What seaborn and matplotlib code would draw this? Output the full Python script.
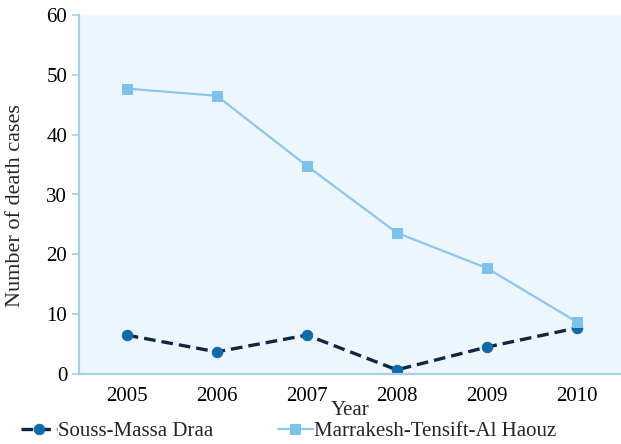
import matplotlib
matplotlib.use("Agg")
import matplotlib.pyplot as plt
import seaborn as sns
import pandas as pd

years = [2005, 2006, 2007, 2008, 2009, 2010]
souss = [6.5, 3.7, 6.5, 0.7, 4.5, 7.7]
marrakesh = [47.7, 46.5, 34.8, 23.6, 17.7, 8.7]
names = ["Souss-Massa Draa", "Marrakesh-Tensift-Al Haouz"]

sns.set_theme(style="white")
plt.rcParams['font.family'] = ['Liberation Serif', 'DejaVu Serif']

df = pd.DataFrame({"Year": years * 2,
                   "Deaths": souss + marrakesh,
                   "Region": [names[0]] * 6 + [names[1]] * 6})

fig = plt.figure(figsize=(6.21, 4.44), dpi=100)
ax = fig.add_axes([79/621, 70/444, 542/621, 359/444])
ax.set_facecolor("#EEF6FD")

sns.lineplot(data=df[df.Region == names[0]], x="Year", y="Deaths", ax=ax,
             color="#0F2740", linewidth=2.4, dashes=False, legend=False)
ax.lines[-1].set_dashes([3.5, 1.8])
ax.lines[-1].set_marker("o")
ax.lines[-1].set_markersize(7.5)
ax.lines[-1].set_markerfacecolor("#0E6BA8")
ax.lines[-1].set_markeredgecolor("#0E6BA8")
ax.lines[-1].set_label(names[0])

sns.lineplot(data=df[df.Region == names[1]], x="Year", y="Deaths", ax=ax,
             color="#8DC6EA", linewidth=1.6, marker="s", markersize=7.5,
             markerfacecolor="#7EC1EA", markeredgecolor="#7EC1EA", legend=False)
ax.lines[-1].set_label(names[1])

ax.set_xlim(2004.47, 2010.49)
ax.set_ylim(0, 60)
ax.set_xticks(years)
ax.set_yticks([0, 10, 20, 30, 40, 50, 60])
ax.tick_params(axis="both", labelsize=15, colors="#A9D0EA", labelcolor="black",
               length=5, width=1.2, direction="out", bottom=False, left=True)
ax.tick_params(axis="x", pad=4)
for s in ["top", "right"]:
    ax.spines[s].set_visible(False)
for s in ["left", "bottom"]:
    ax.spines[s].set_color("#A9D0EA")
    ax.spines[s].set_linewidth(1.6)

ax.set_xlabel("Year", fontsize=15, labelpad=-3)
ax.set_ylabel("Number of death cases", fontsize=16)
ax.yaxis.set_label_coords(-54/542, 0.468)

h = ax.lines
fig.legend(h[:2], names, loc="lower left", bbox_to_anchor=(13/621, -0.012),
           ncol=2, frameon=False, fontsize=15, handlelength=1.7,
           handletextpad=0.05, columnspacing=3.1, borderaxespad=0)

fig.savefig("out.png", dpi=100)
